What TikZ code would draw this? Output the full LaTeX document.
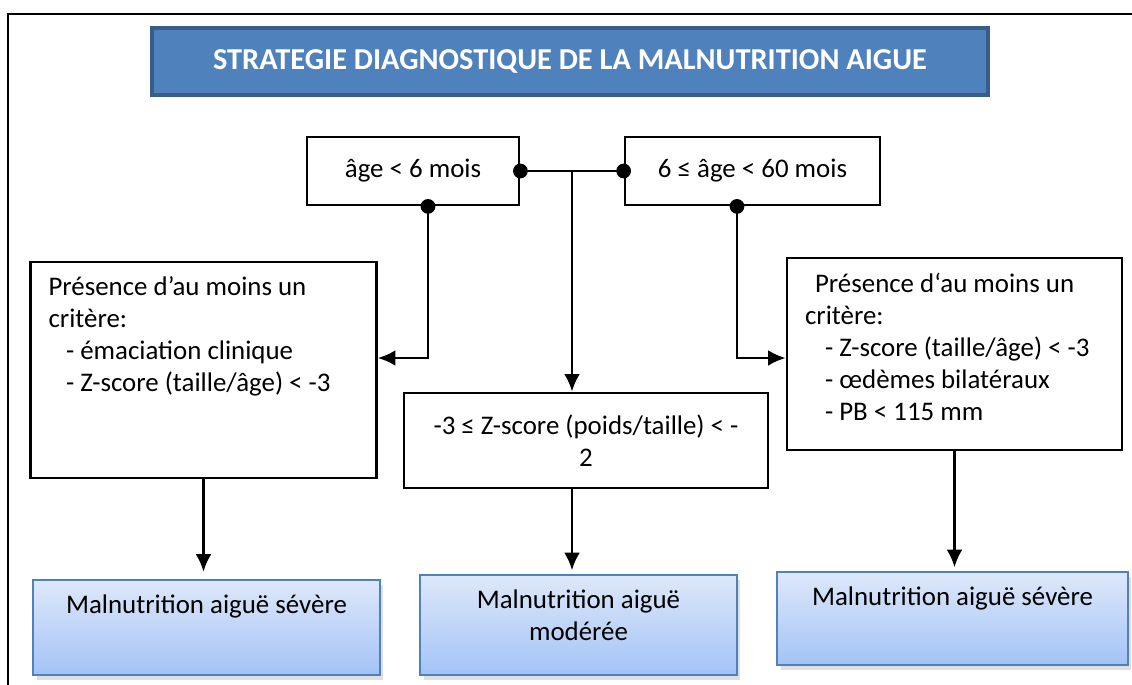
\documentclass[tikz,border=0pt]{standalone}
\usepackage{fontspec}
\setmainfont{Carlito}
\usetikzlibrary{calc,arrows.meta,shadows}
\definecolor{bleutitre}{HTML}{4F81BD}
\definecolor{bleubord}{HTML}{385D8A}
\definecolor{bleuhaut}{HTML}{DEE8FA}
\definecolor{bleubas}{HTML}{A3C3F6}
\definecolor{bleucadre}{HTML}{4F81BD}
\begin{document}
\begin{tikzpicture}[x=0.02cm,y=-0.02cm]
\fontsize{15.3}{18.2}\selectfont
\useasboundingbox (0,0) rectangle (1132,685);

\tikzstyle{estun}=[-{Latex[length=10pt,width=9pt]},line width=1.4pt]
\tikzstyle{boite}=[draw,line width=1.6pt,inner sep=0pt]
\tikzstyle{resultat}=[draw=bleucadre,line width=1.4pt,top color=bleuhaut,bottom color=bleubas,
                      drop shadow={opacity=0.25,shadow xshift=2pt,shadow yshift=-3pt},inner xsep=0.36cm,inner ysep=0.3cm]

%le cadre
\draw[line width=1.6pt] (1132,14) -- (8,14) -- (8,685) ;

%le titre
\node[draw=bleubord,line width=2pt,fill=bleutitre,minimum width=16.72cm,minimum height=1.34cm,
      text=white,font=\fontsize{17.3}{20}\selectfont\bfseries] (titre) at (570,61.5) {STRATEGIE DIAGNOSTIQUE DE LA MALNUTRITION AIGUE} ;

%les ages
\node[boite,minimum width=4.24cm,minimum height=1.36cm] (age1) at (413,171) {âge < 6 mois} ;
\node[boite,minimum width=5.1cm,minimum height=1.36cm] (age2) at (752.5,171) {6 ≤ âge < 60 mois} ;

%les criteres
\node[boite,inner xsep=0.36cm,inner ysep=0.3cm] (critG) at (203.5,370)
  {\parbox[t][3.72cm][t]{6.2cm}{Présence d’au moins un\\critère:\\
   \hspace*{0.35cm}- émaciation clinique\\\hspace*{0.35cm}- Z-score (taille/âge) < -3}} ;
\node[boite,inner xsep=0.36cm,inner ysep=0.3cm] (critD) at (954.5,354)
  {\parbox[t][3.24cm][t]{5.98cm}{\hspace*{0.2cm}Présence d‘au moins un\\critère:\\
   \hspace*{0.4cm}- Z-score (taille/âge) < -3\\\hspace*{0.4cm}- œdèmes bilatéraux\\\hspace*{0.4cm}- PB < 115 mm}} ;
\node[boite,minimum width=7.28cm,minimum height=1.9cm,align=center] (mid) at (586,440.5)
  {-3 ≤ Z-score (poids/taille) < -\\2} ;

%les resultats
\node[resultat] (resG) at (206.5,627.5) {\parbox[t][1.3cm][t]{6.22cm}{\centering Malnutrition aiguë sévère}} ;
\node[resultat] (resM) at (578.5,625) {\parbox[t][1.4cm][t]{5.62cm}{\centering Malnutrition aiguë\\modérée}} ;
\node[resultat] (resD) at (952.5,618.5) {\parbox[t][1.26cm][t]{6.3cm}{\centering Malnutrition aiguë sévère}} ;

%les liens
\coordinate (jonction) at ($(age1.east)!0.5!(age2.west)$) ;
\coordinate (pied1) at ([xshift=0.3cm]age1.south) ;
\coordinate (pied2) at ([xshift=-0.31cm]age2.south) ;
\draw[line width=1.4pt] (age1.east) -- (age2.west) ;
\draw[estun] (jonction) -- (jonction |- mid.north) ;
\draw[estun] (pied1) |- ([yshift=0.24cm]critG.east) ;
\draw[estun] (pied2) |- ([yshift=-0.08cm]critD.west) ;
\foreach \p in {age1.east,age2.west,pied1,pied2}
  \fill (\p) circle (4.2pt) ;
\draw[estun,shorten >=4pt] (critG.south) -- (critG.south |- resG.north) ;
\draw[estun,shorten >=2pt] (jonction |- mid.south) -- (jonction |- resM.north) ;
\draw[estun,shorten >=2pt] (critD.south) -- (critD.south |- resD.north) ;

\end{tikzpicture}
\end{document}
